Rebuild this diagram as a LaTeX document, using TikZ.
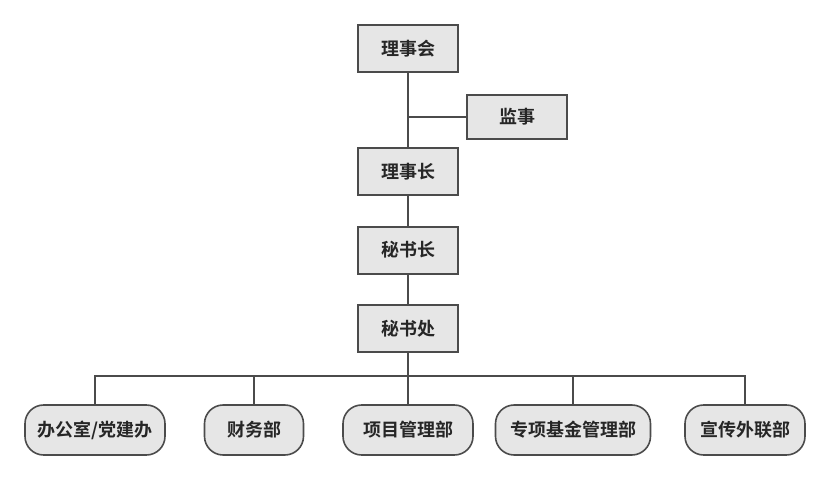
\documentclass[tikz,border=0pt]{standalone}
\usepackage{fontspec}
\newfontfamily\cjk{Noto Sans CJK SC}[BoldFont={Noto Sans CJK SC Bold}]
\usetikzlibrary{positioning}
\definecolor{boxfill}{RGB}{230,230,230}
\definecolor{boxline}{RGB}{75,75,75}
\tikzset{every picture/.style={line width=0.75pt},
  leader/.style={draw=boxline,fill=boxfill,line width=1.5pt,minimum width=100*0.75pt,minimum height=47*0.75pt,inner sep=0pt,font=\cjk\bfseries\fontsize{13.5}{15}\selectfont,text=black!85},
  dept/.style={leader,rounded corners=14pt,line width=1.2pt,minimum height=50*0.75pt},
  link/.style={draw=boxline,line width=1.1pt}}

\begin{document}
\begin{tikzpicture}[x=0.75pt,y=0.75pt,yscale=-1,xscale=1]
  \path[use as bounding box] (0,0) rectangle (831,481);

  % leaders
  \node[leader] (council) at (408,49) {理事会};
  \node[leader,minimum height=44*0.75pt] (supervisor) at (517,117) {监事};
  \node[leader] (chair) at (408,171.5) {理事长};
  \node[leader] (secgen) at (408,250) {秘书长};
  \node[leader] (office) at (408,328.5) {秘书处};

  % departments
  \node[dept,minimum width=140*0.75pt] (admin) at (95,430) {办公室/党建办};
  \node[dept,minimum width=99*0.75pt] (finance) at (254,430) {财务部};
  \node[dept,minimum width=130*0.75pt] (project) at (408,430) {项目管理部};
  \node[dept,minimum width=155*0.75pt] (fund) at (573,430) {专项基金管理部};
  \node[dept,minimum width=120*0.75pt] (publicity) at (745,430) {宣传外联部};

  % connectors
  \coordinate (bus) at (408,376);
  \draw[link] (council) -- (chair);
  \draw[link] (supervisor.west) -- (supervisor.west -| council);
  \draw[link] (chair) -- (secgen);
  \draw[link] (secgen) -- (office);
  \draw[link] (office) -- (bus);
  \draw[link] (admin.north) |- (bus) -| (publicity.north);
  \foreach \d in {finance,project,fund}
    \draw[link] (\d.north) -- (\d.north |- bus);
\end{tikzpicture}
\end{document}
